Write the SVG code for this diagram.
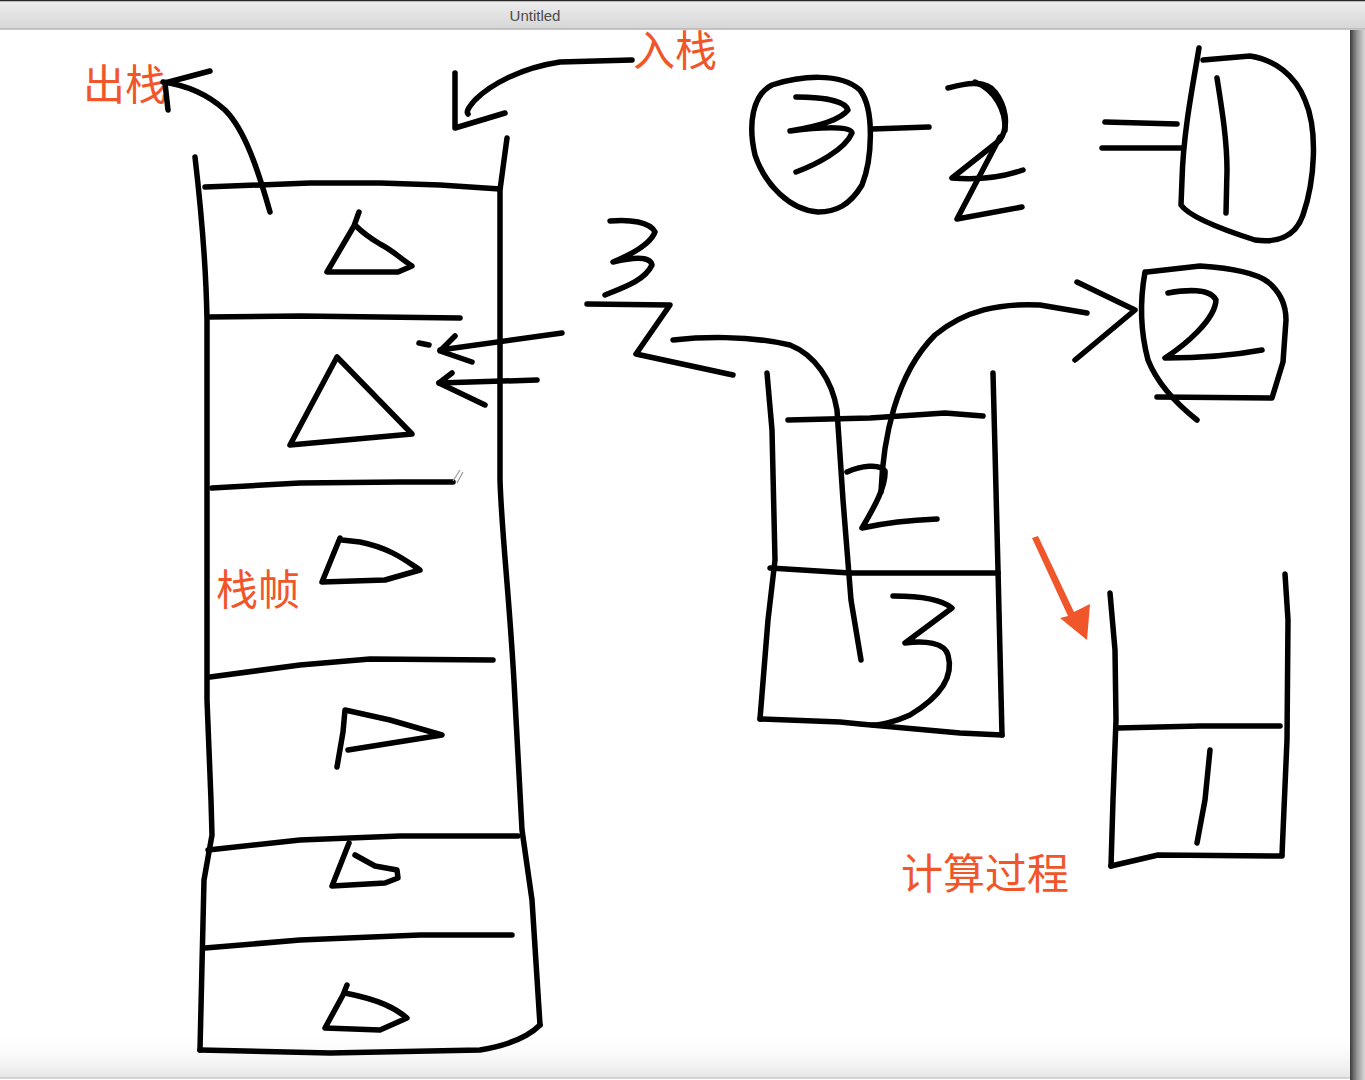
<svg xmlns="http://www.w3.org/2000/svg" width="1365" height="1080" viewBox="0 0 1365 1080">
<defs>
<linearGradient id="tb" x1="0" y1="0" x2="0" y2="1"><stop offset="0" stop-color="#eeeeee"/><stop offset="1" stop-color="#d6d6d6"/></linearGradient>
<linearGradient id="rs" x1="0" y1="0" x2="1" y2="0"><stop offset="0" stop-color="#3c3c3c"/><stop offset="0.5" stop-color="#9a9a9a"/><stop offset="1" stop-color="#d8d8d8"/></linearGradient>
<linearGradient id="bf" x1="0" y1="0" x2="0" y2="1"><stop offset="0" stop-color="#ffffff" stop-opacity="0"/><stop offset="1" stop-color="#e6e6e6"/></linearGradient>
</defs>
<style>
.s{fill:none;stroke:#000;stroke-width:5.5;stroke-linecap:round;stroke-linejoin:round}
.t{font-family:"Noto Sans CJK SC","Noto Sans",sans-serif;fill:#f0562a;font-size:42px}
</style>
<rect width="1365" height="1080" fill="#ffffff"/>
<g id="chrome">
<rect x="0" y="0" width="1365" height="29" fill="url(#tb)"/>
<line x1="0" y1="0.5" x2="1365" y2="0.5" stroke="#2a2a2a" stroke-width="1.5"/>
<line x1="0" y1="29" x2="1365" y2="29" stroke="#b4b4b4" stroke-width="1.5"/>
<text x="535" y="21" text-anchor="middle" font-family="Liberation Sans, sans-serif" font-size="15" fill="#4a4a4a">Untitled</text>
<rect x="1350" y="30" width="15" height="1050" fill="url(#rs)"/>
<rect x="0" y="1032" width="1350" height="46" fill="url(#bf)"/>
<line x1="0" y1="1078" x2="1350" y2="1078" stroke="#c8c8c8" stroke-width="1.5"/>
</g>
<g id="labels">
<text class="t" x="83" y="100">出栈</text>
<text class="t" x="633" y="66">入栈</text>
<text class="t" x="216" y="605">栈帧</text>
<text class="t" x="901" y="889" font-size="44">计算过程</text>
</g>
<g id="left-stack">
<path class="s" d="M195,157 C200,200 206,260 207,320 L207,700 L211,800 L212,835 L204,880 L200,1050"/>
<path class="s" d="M507,138 L500,190 L500,480 C502,540 510,600 515,700 L522,830 L532,900 L540,1025"/>
<path class="s" d="M200,1050 L330,1053 L480,1050 C510,1045 530,1035 540,1025"/>
<path class="s" d="M205,187 L310,183 L380,183 L440,185 L500,189"/>
<path class="s" d="M208,317 L300,316 L380,317 L460,318"/>
<path class="s" d="M212,488 L300,483 L400,482 L453,482"/>
<path d="M453,481 L460,470 M457,483 L463,472" stroke="#999" stroke-width="1.2" fill="none"/>
<path class="s" d="M210,677 L300,665 L370,659 L493,660"/>
<path class="s" d="M208,850 L300,840 L400,836 L518,836"/>
<path class="s" d="M205,948 L300,940 L420,935 L512,935"/>
<path class="s" d="M359,212 L354,226 L327,272 L398,272 L412,266 C400,258 392,250 380,244 C370,238 362,232 356,226"/>
<path class="s" d="M337,357 L290,445 L412,434 Z"/>
<path class="s" d="M340,538 L322,582 L385,580 L420,570 C405,560 390,548 360,542 L342,540"/>
<path class="s" d="M337,767 L343,732 L345,710 L390,720 L442,735 L348,750"/>
<path class="s" d="M349,843 L332,886 L385,883 L398,878 L397,870 L375,866 L355,855"/>
<path class="s" d="M347,985 L343,995 L325,1028 L380,1030 L407,1018 C395,1008 380,1000 345,993"/>
</g>
<g id="expression">
<path class="s" d="M772,85 C800,76 840,72 860,90 C875,110 872,160 862,185 C850,205 836,212 818,212 C790,210 765,185 755,155 C748,125 752,95 772,85 Z"/>
<path class="s" d="M796,97 C820,97 845,100 848,110 C840,120 815,127 790,131 C815,128 850,125 852,133 C845,150 815,165 796,172"/>
<path class="s" d="M872,129 L929,127"/>
<path class="s" d="M948,88 C960,85 985,78 995,92 C1005,105 1010,125 1000,140 L952,178 C975,180 1000,178 1023,170"/>
<path class="s" d="M975,82 C995,90 1006,110 1005,130"/>
<path class="s" d="M1000,137 L957,219 L1022,207"/>
<path class="s" d="M1105,122 L1177,124"/>
<path class="s" d="M1102,148 L1182,148"/>
<path class="s" d="M1199,48 L1197,60 C1190,100 1183,140 1182,180 L1181,205 C1190,218 1230,232 1255,240 C1275,243 1295,238 1303,215 C1315,180 1318,130 1305,100 C1295,75 1275,60 1250,56 L1203,60"/>
<path class="s" d="M1217,78 C1222,110 1227,140 1227,170 L1226,213"/>
</g>
<g id="input-3">
<path class="s" d="M610,221 C630,219 650,222 655,232 C650,245 630,255 613,262 C630,258 650,255 652,265 C645,280 625,287 605,295"/>
<path class="s" d="M587,304 L670,305 L636,354 L733,375"/>
</g>
<g id="mid-stack">
<path class="s" d="M767,373 L772,430 L775,560 L768,620 L760,719"/>
<path class="s" d="M993,373 L995,450 L998,570 L1002,735"/>
<path class="s" d="M760,719 L840,722 L860,724 L960,733 L1002,735"/>
<path class="s" d="M788,420 L870,418 L945,413 L983,416"/>
<path class="s" d="M770,568 L850,573 L998,573"/>
<path class="s" d="M847,472 C860,466 880,463 885,471 C886,486 875,506 862,528 C880,524 910,520 937,519"/>
<path class="s" d="M893,596 C915,596 940,598 952,608 L905,643 C925,640 945,643 948,655 C955,680 935,700 910,715 C895,722 880,725 873,725"/>
</g>
<g id="result-2">
<path class="s" d="M1147,272 L1200,266 C1230,268 1255,272 1268,282 C1280,292 1286,305 1286,320 L1283,362 L1272,398 L1157,397"/>
<path class="s" d="M1145,272 C1140,300 1140,330 1148,360 C1158,385 1178,405 1197,420"/>
<path class="s" d="M1168,293 C1185,290 1210,288 1216,300 C1215,320 1185,345 1165,358 C1195,358 1230,356 1262,350"/>
</g>
<g id="result-stack">
<path class="s" d="M1110,593 L1115,650 L1116,720 L1113,800 L1111,866"/>
<path class="s" d="M1285,574 L1288,620 L1287,740 L1282,855"/>
<path class="s" d="M1118,728 L1200,726 L1280,726"/>
<path class="s" d="M1111,866 L1158,855 L1282,856"/>
<path class="s" d="M1210,750 L1205,800 L1197,843"/>
</g>
<g id="connectors">
<path class="s" d="M270,212 C258,170 245,130 225,110 C205,92 185,85 163,82"/>
<path class="s" d="M210,71 L165,83 L168,110"/>
<path class="s" d="M632,60 L560,62 C520,68 490,85 475,100 C468,108 466,112 468,114"/>
<path class="s" d="M455,73 L455,128 L505,113"/>
<path class="s" d="M562,333 L440,350"/>
<path class="s" d="M455,336 L440,351 L472,362"/>
<path class="s" d="M419,343 L429,345"/>
<path class="s" d="M537,380 L439,383"/>
<path class="s" d="M452,373 L439,383 L485,405"/>
<path class="s" d="M673,340 C700,337 747,335 790,345 C815,355 832,380 837,410 L843,500 L851,600 L861,660"/>
<path class="s" d="M881,492 C883,440 895,375 935,335 C965,310 1000,303 1040,305 L1087,313"/>
<path class="s" d="M1077,282 L1135,310 L1075,360"/>
<path d="M1032,538 L1038,536 L1074,612 L1090,604 L1087,640 L1060,618 L1068,616 Z" fill="#f0562a"/>
</g>
</svg>
